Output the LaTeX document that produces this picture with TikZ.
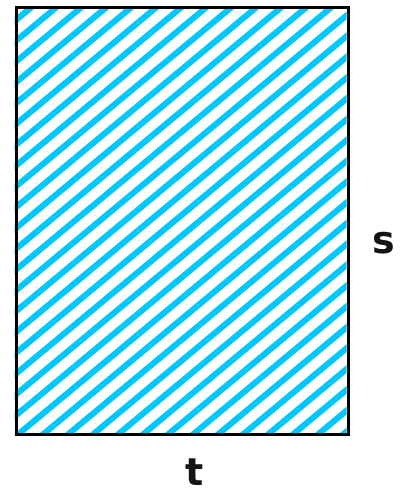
\documentclass[tikz,border=0pt]{standalone}
\usepackage{fontspec}
\setmainfont{DejaVu Sans}
\definecolor{hatchcyan}{RGB}{0,200,255}
\definecolor{labelgray}{RGB}{20,20,20}
\tikzset{
  hatchline/.style={draw=hatchcyan, line width=6pt},
  frame/.style={draw=black, line width=3pt},
  axislabel/.style={font=\bfseries\fontsize{38}{38}\selectfont, text=labelgray, inner sep=0pt}
}
\begin{document}
\begin{tikzpicture}[x=1pt,y=-1pt]
\useasboundingbox (0,0) rectangle (410,498);
\begin{scope}
  \clip (14.5,6) rectangle (346.5,433);
  \foreach \k in {-3,...,36} {
    \draw[hatchline] ({31.7+25*\k-1000},{7+832}) -- ({31.7+25*\k+1000},{7-832});
  }
\end{scope}
\node[frame, minimum width=332pt, minimum height=427pt, inner sep=0pt, anchor=north west] (box) at (14.5,6) {};
\node[axislabel] (s) at (384,243) {s};
\node[axislabel] (t) at (195,472) {t};
\end{tikzpicture}
\end{document}
